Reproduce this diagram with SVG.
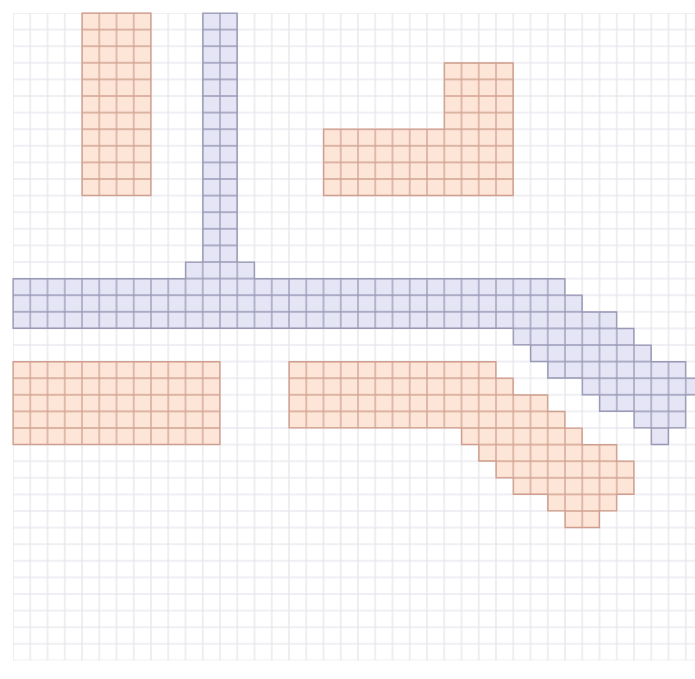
<svg xmlns="http://www.w3.org/2000/svg" width="695" height="679" viewBox="0 0 695 679">
<style>
.orange{fill:url(#gO);stroke:#cf9e8e;stroke-width:1.2}
.blue{fill:url(#gB);stroke:#9a9ab6;stroke-width:1.2}
</style>
<defs>
<pattern id="gBg" patternUnits="userSpaceOnUse" x="13" y="13" width="17.25" height="16.6">
<rect width="17.25" height="16.6" fill="#ffffff"/>
<path d="M0 0H17.25M0 16.6H17.25M0 0V16.6M17.25 0V16.6" stroke="#e2e2ea" stroke-width="1.1" fill="none"/>
</pattern>
<pattern id="gO" patternUnits="userSpaceOnUse" x="13" y="13" width="17.25" height="16.6">
<rect width="17.25" height="16.6" fill="#fde5d7"/>
<path d="M0 0H17.25M0 16.6H17.25M0 0V16.6M17.25 0V16.6" stroke="#d3a392" stroke-width="1.3" fill="none"/>
</pattern>
<pattern id="gB" patternUnits="userSpaceOnUse" x="13" y="13" width="17.25" height="16.6">
<rect width="17.25" height="16.6" fill="#e5e5f6"/>
<path d="M0 0H17.25M0 16.6H17.25M0 0V16.6M17.25 0V16.6" stroke="#9a9ab6" stroke-width="1.3" fill="none"/>
</pattern>
</defs>
<rect width="695" height="679" fill="#ffffff"/>
<rect x="13" y="13" width="682" height="647.4" fill="url(#gBg)"/>
<g id="orange-top-left">
<rect class="orange" x="82" y="13" width="69" height="182.6"/>
</g>
<g id="orange-top-right">
<path class="orange" d="M444.25 62.8H513.25V195.6H323.5V129.2H444.25Z"/>
</g>
<g id="orange-bottom-left">
<rect class="orange" x="13" y="361.6" width="207" height="83"/>
</g>
<g id="orange-bottom-right">
<path class="orange" d="M289 361.6H496V378.2H513.25V394.8H547.75V411.4H565V428H582.25V444.6H616.75V461.2H634V494.4H616.75V511H599.5V527.6H565V511H547.75V494.4H513.25V477.8H496V461.2H478.75V444.6H461.5V428H289Z"/>
</g>
<g id="blue-road">
<path class="blue" d="M202.75 13H237.25V262H254.5V278.6H565V295.2H582.25V311.8H616.75V328.4H634V345H651.25V361.6H685.75V378.2H703V394.8H685.75V428H668.5V444.6H651.25V428H634V411.4H599.5V394.8H582.25V378.2H547.75V361.6H530.5V345H513.25V328.4H13V278.6H185.5V262H202.75Z"/>
</g>
<g id="connectors"></g>
</svg>
